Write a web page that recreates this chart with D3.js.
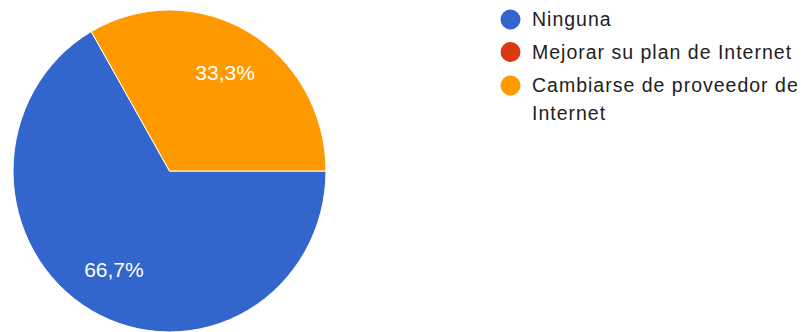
<!DOCTYPE html>
<html>
<head>
<meta charset="utf-8">
<script src="https://cdn.jsdelivr.net/npm/d3@7"></script>
<style>
  html, body { margin: 0; padding: 0; background: #fff; }
  svg { display: block; }
</style>
</head>
<body>
<svg id="chart" width="806" height="332"></svg>
<script>
// Answer categories and response counts
const categories = ["Ninguna", "Mejorar su plan de Internet", "Cambiarse de proveedor de Internet"];
const counts = [2, 0, 1];
const colors = ["#3366cc", "#dc3912", "#ff9900"];
// Legend lines (long entries wrap onto a second line)
const legendLines = [["Ninguna"], ["Mejorar su plan de Internet"], ["Cambiarse de proveedor de", "Internet"]];

const svg = d3.select("#chart");
const cx = 169.5, cy = 171, r = 156.5, yScale = 161 / 156.5;

const total = d3.sum(counts);
const data = categories.map((c, i) => ({ name: c, value: counts[i], color: colors[i] }));

const pie = d3.pie()
  .sort(null)
  .value(d => d.value)
  .startAngle(Math.PI / 2)
  .endAngle(Math.PI / 2 + 2 * Math.PI);

const arcs = pie(data).filter(a => a.data.value > 0);
const arc = d3.arc().innerRadius(0).outerRadius(r);
const labelArc = d3.arc().innerRadius(r * 0.71).outerRadius(r * 0.71);

const root = svg.append("g").attr("transform", `translate(${cx},${cy})`);

root.append("g")
  .attr("transform", `scale(1,${yScale})`)
  .selectAll("path.slice")
  .data(arcs)
  .join("path")
  .attr("class", "slice")
  .attr("d", arc)
  .attr("fill", d => d.data.color)
  .attr("stroke", "#ffffff")
  .attr("stroke-width", 1)
  .attr("vector-effect", "non-scaling-stroke");

const pct = v => (v / total * 100).toFixed(1).replace(".", ",") + "%";

root.selectAll("text.pct")
  .data(arcs)
  .join("text")
  .attr("class", "pct")
  .attr("x", d => labelArc.centroid(d)[0])
  .attr("y", d => labelArc.centroid(d)[1] * yScale + 7.5)
  .attr("text-anchor", "middle")
  .attr("font-family", "Arial, 'Liberation Sans', sans-serif")
  .attr("font-size", 21)
  .attr("fill", "#ffffff")
  .text(d => pct(d.data.value));

// Legend
const legend = svg.append("g").attr("transform", "translate(510.5,0)");
const rowY = [19.5, 52, 85.5];
const item = legend.selectAll("g.item")
  .data(data)
  .join("g")
  .attr("class", "item")
  .attr("transform", (d, i) => `translate(0,${rowY[i]})`);

item.append("circle")
  .attr("r", 10)
  .attr("fill", d => d.color);

item.each(function(d, i) {
  d3.select(this).selectAll("text")
    .data(legendLines[i])
    .join("text")
    .attr("x", 21.5)
    .attr("y", (t, j) => 6.8 + j * 27.5)
    .attr("font-family", "Arial, 'Liberation Sans', sans-serif")
    .attr("font-size", 19.5)
    .attr("letter-spacing", 1)
    .attr("fill", "#222222")
    .text(t => t);
});
</script>
</body>
</html>
